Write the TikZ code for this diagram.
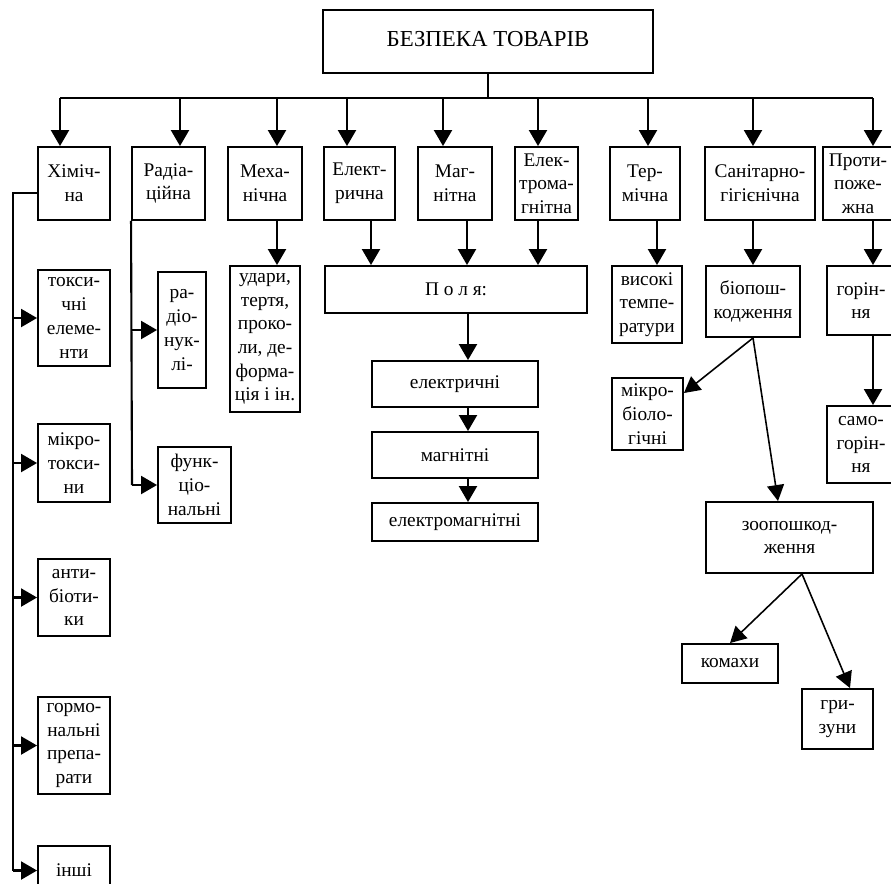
\documentclass[tikz,border=0pt]{standalone}
\usepackage{fontspec}
\setmainfont{Liberation Serif}
\usetikzlibrary{arrows.meta}

\tikzset{
  blok/.style={draw, line width=1.1pt, align=center, inner sep=1pt, font=\fontsize{11}{13.5}\selectfont},
  arr/.style={line width=1.2pt, -{Triangle[width=0.36cm,length=0.32cm]}},
  thinarr/.style={line width=0.9pt, -{Triangle[width=0.34cm,length=0.32cm]}},
  lin/.style={line width=1.2pt},
}

\begin{document}
\begin{tikzpicture}[x=0.02cm, y=-0.02cm]
	\useasboundingbox (0,0) rectangle (891,883);
	% root
	\node[blok, minimum width=6.6cm, minimum height=1.26cm, font=\fontsize{13}{15}\selectfont] (top) at (488,41.5) {\raisebox{3pt}{БЕЗПЕКА ТОВАРІВ}};
	% first level
	\node[blok, minimum width=1.44cm, minimum height=1.46cm] (him) at (74,183.5) {Хіміч-\\на};
	\node[blok, minimum width=1.46cm, minimum height=1.46cm] (rad) at (168.5,183.5) {Радіа-\\ційна};
	\node[blok, minimum width=1.48cm, minimum height=1.46cm] (meh) at (265,183.5) {Меха-\\нічна};
	\node[blok, minimum width=1.42cm, minimum height=1.46cm] (el) at (359.5,183.5) {Елект-\\рична};
	\node[blok, minimum width=1.48cm, minimum height=1.46cm] (mag) at (455,183.5) {Маг-\\нітна};
	\node[blok, minimum width=1.26cm, minimum height=1.46cm] (elm) at (546.5,183.5) {Елек-\\трома-\\гнітна};
	\node[blok, minimum width=1.40cm, minimum height=1.46cm] (term) at (645,183.5) {Тер-\\мічна};
	\node[blok, minimum width=2.20cm, minimum height=1.46cm] (san) at (760,183.5) {Санітарно-\\гігієнічна};
	\node[blok, minimum width=1.40cm, minimum height=1.46cm] (prot) at (858,183.5) {Проти-\\поже-\\жна};
	% chemical
	\node[blok, minimum width=1.44cm, minimum height=1.92cm] (tox) at (74,318) {токси-\\чні\\елеме-\\нти};
	\node[blok, minimum width=1.44cm, minimum height=1.56cm] (mik) at (74,463) {мікро-\\токси-\\ни};
	\node[blok, minimum width=1.44cm, minimum height=1.54cm] (ant) at (74,597.5) {анти-\\біоти-\\ки};
	\node[blok, minimum width=1.44cm, minimum height=1.94cm] (gor) at (74,745.5) {гормо-\\нальні\\препа-\\рати};
	\node[blok, minimum width=1.44cm, minimum height=0.98cm] (inshi) at (74,870.5) {інші};
	% radiation
	\node[blok, minimum width=0.96cm, minimum height=2.32cm] (nuk) at (182,330) {ра-\\діо-\\нук-\\лі-};
	\node[blok, minimum width=1.46cm, minimum height=1.52cm] (fun) at (194.5,485) {функ-\\ціо-\\нальні};
	% mechanical
	\node[blok, minimum width=1.40cm, minimum height=2.92cm] (udar) at (265,339) {удари,\\тертя,\\проко-\\ли, де-\\форма-\\ція і ін.};
	% fields
	\node[blok, minimum width=5.24cm, minimum height=0.94cm] (polya) at (456,289.5) {П о л я:};
	\node[blok, minimum width=3.32cm, minimum height=0.92cm] (elc) at (455,384) {електричні};
	\node[blok, minimum width=3.32cm, minimum height=0.92cm] (mgn) at (455,455) {магнітні};
	\node[blok, minimum width=3.32cm, minimum height=0.76cm] (elmg) at (455,522) {електромагнітні};
	% thermal, sanitary, fire
	\node[blok, minimum width=1.40cm, minimum height=1.54cm] (vys) at (647,304.5) {високі\\темпе-\\ратури};
	\node[blok, minimum width=1.88cm, minimum height=1.42cm] (bio) at (753,301.5) {біопош-\\кодження};
	\node[blok, minimum width=1.42cm, minimum height=1.44cm] (mikb) at (647.5,414) {мікро-\\біоло-\\гічні};
	\node[blok, minimum width=3.34cm, minimum height=1.42cm] (zoo) at (789.5,537.5) {зоопошкод-\\ження};
	\node[blok, minimum width=1.92cm, minimum height=0.78cm] (kom) at (730,663.5) {комахи};
	\node[blok, minimum width=1.42cm, minimum height=1.20cm] (griz) at (837.5,719) {гри-\\зуни};
	\node[blok, minimum width=1.36cm, minimum height=1.38cm] (gorin) at (861,300.5) {горін-\\ня};
	\node[blok, minimum width=1.36cm, minimum height=1.54cm] (samo) at (861,444.5) {само-\\горін-\\ня};

	% bus under the root
	\coordinate (a1) at (60,98);
	\coordinate (a2) at (180,98);
	\coordinate (a3) at (277,98);
	\coordinate (a4) at (347,98);
	\coordinate (a5) at (443,98);
	\coordinate (a6) at (538,98);
	\coordinate (a7) at (648,98);
	\coordinate (a8) at (753,98);
	\coordinate (a9) at (873,98);
	\draw[lin] (top.south) -- (top.south |- a1);
	\draw[lin] (a1) -- (a9);
	\foreach \a/\n in {a1/him, a2/rad, a3/meh, a4/el, a5/mag, a6/elm, a7/term, a8/san, a9/prot}
		\draw[arr] (\a) -- (\a |- \n.north);

	% left buses
	\coordinate (hb) at (13,871);
	\draw[lin] ([yshift=-0.19cm]him.west) -| (hb);
	\foreach \n in {tox, mik, ant, gor, inshi}
		\draw[arr] (\n.west -| hb) -- (\n.west);
	\coordinate (rb) at (132,485);
	\draw[lin] (rad.south west) -- (rb);
	\draw[arr] (nuk.west -| rb) -- (nuk.west);
	\draw[arr] (fun.west -| rb) -- (fun.west);

	% vertical arrows
	\coordinate (xm) at (277,0);
	\coordinate (xe) at (371,0);
	\coordinate (xg) at (467,0);
	\coordinate (xem) at (538,0);
	\coordinate (xp) at (468,0);
	\coordinate (xt) at (657,0);
	\coordinate (xf) at (873,0);
	\draw[arr] (meh.south -| xm) -- (udar.north -| xm);
	\draw[arr] (el.south -| xe) -- (polya.north -| xe);
	\draw[arr] (mag.south -| xg) -- (polya.north -| xg);
	\draw[arr] (elm.south -| xem) -- (polya.north -| xem);
	\draw[arr] (polya.south -| xp) -- (elc.north -| xp);
	\draw[arr] (elc.south -| xp) -- (mgn.north -| xp);
	\draw[arr] (mgn.south -| xp) -- (elmg.north -| xp);
	\draw[arr] (term.south -| xt) -- (vys.north -| xt);
	\draw[arr] (bio.north |- san.south) -- (bio.north);
	\draw[arr] (prot.south -| xf) -- (gorin.north -| xf);
	\draw[arr] (gorin.south -| xf) -- (samo.north -| xf);

	% slanted arrows
	\draw[thinarr] (bio.south) -- ([yshift=0.42cm]mikb.east);
	\draw[thinarr] (bio.south) -- ([xshift=-0.23cm]zoo.north);
	\draw[thinarr] ([xshift=0.25cm]zoo.south) -- (kom.north);
	\draw[thinarr] ([xshift=0.25cm]zoo.south) -- ([xshift=0.25cm]griz.north);
\end{tikzpicture}
\end{document}
